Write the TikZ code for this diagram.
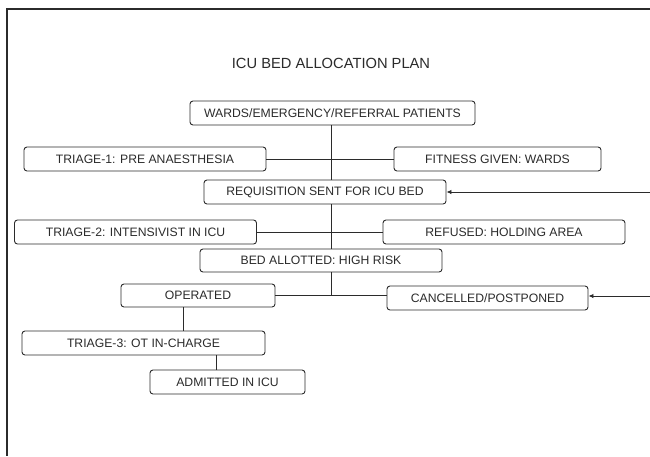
\documentclass[tikz,border=0pt]{standalone}
\usepackage{fontspec}
\setmainfont{Liberation Sans}
\usetikzlibrary{arrows.meta}
\definecolor{ink}{HTML}{2B2B2B}
\begin{document}
\begin{tikzpicture}[x=1pt,y=-1pt,
  box/.style={draw=ink, line width=0.9pt, rounded corners=3pt, inner sep=0pt,
    minimum height=24pt, text=ink, font=\fontsize{12.2}{14}\selectfont, anchor=center},
  link/.style={draw=ink, line width=0.9pt},
  arr/.style={link, -{Latex[length=5pt,width=4.5pt]}}]
\useasboundingbox (0,0) rectangle (650,456);
\fill[white] (0,0) rectangle (650,456);
% frame
\coordinate (ftl) at (7,9);
\coordinate (ftr) at (650,9);
\coordinate (fbl) at (7,456);
\draw[ink, line width=1.1pt] (ftr) -- (ftl) -- (fbl);
% title
\node[text=ink, font=\fontsize{14.7}{17}\selectfont] (title) at (331,63) {ICU BED ALLOCATION PLAN};
% boxes
\node[box, minimum width=285pt] (wards) at (332.5,113) {WARDS/EMERGENCY/REFERRAL PATIENTS};
\node[box, minimum width=242pt] (t1) at (145,159) {TRIAGE-1: PRE ANAESTHESIA};
\node[box, minimum width=207pt] (fit) at (497.5,159) {FITNESS GIVEN: WARDS};
\node[box, minimum width=242pt] (req) at (325,192) {REQUISITION SENT FOR ICU BED};
\node[box, minimum width=242pt] (t2) at (135.5,232) {TRIAGE-2: INTENSIVIST IN ICU};
\node[box, minimum width=242pt] (ref) at (504,232) {REFUSED: HOLDING AREA};
\node[box, minimum width=242pt, minimum height=23pt] (bed) at (321,260.5) {BED ALLOTTED: HIGH RISK};
\node[box, minimum width=154pt, minimum height=23pt] (op) at (198,295.5) {OPERATED};
\node[box, minimum width=201pt] (can) at (487.5,298) {CANCELLED/POSTPONED};
\node[box, minimum width=243pt] (t3) at (143.5,343) {TRIAGE-3: OT IN-CHARGE};
\node[box, minimum width=155pt] (adm) at (227.5,382) {ADMITTED IN ICU};
% trunk
\coordinate (trunkend) at (331,295.5);
\coordinate (k1) at (331,125);
\draw[link] (k1) -- (k1 |- req.north);
\draw[link] (k1 |- req.south) -- (k1 |- bed.north);
\draw[link] (k1 |- bed.south) -- (trunkend);
% side links
\draw[link] (t1.east) -- (fit.west);
\draw[link] (t2.east) -- (ref.west);
\draw[link] (op.east) -- (op.east -| can.west);
% down links
\coordinate (d1) at (183,0);
\coordinate (d2) at (216,0);
\draw[link] (d1 |- op.south) -- (d1 |- t3.north);
\draw[link] (d2 |- t3.south) -- (d2 |- adm.north);
% incoming arrows
\coordinate (r1) at (650,192);
\coordinate (r2) at (650,296);
\draw[arr] (r1) -- (req.east);
\draw[arr] (r2) -- (r2 -| can.east);
\end{tikzpicture}
\end{document}
